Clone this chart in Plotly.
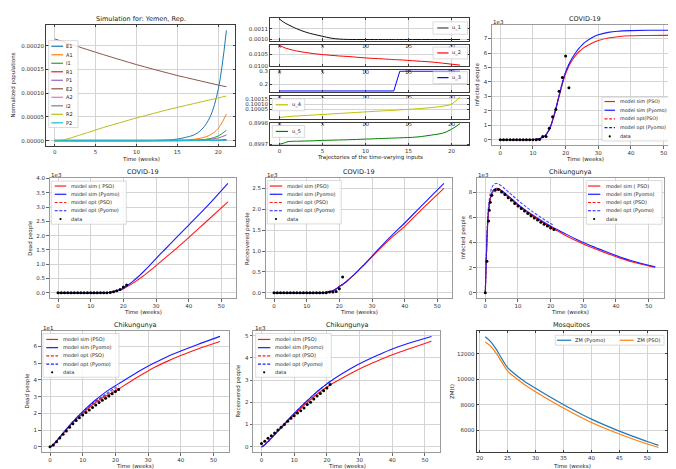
import plotly.graph_objects as go

W, H = 676, 469
FONT = "DejaVu Sans"

# ---------------- top left : Yemen simulation (values in 1e-6)
t_sim = [0, 1, 2, 3, 4, 5, 6, 7, 8, 9, 10, 11, 12, 13, 14, 15, 16, 17, 18, 19, 20, 21]
E1 = [0.2, 0.2, 0.2, 0.2, 0.2, 0.2, 0.2, 0.2, 0.2, 0.2, 0.2, 0.3, 0.5, 0.9, 1.7, 3.5, 7, 12, 24, 50, 108, 232]
A1 = [0.1, 0.1, 0.1, 0.1, 0.1, 0.1, 0.1, 0.1, 0.1, 0.1, 0.1, 0.1, 0.2, 0.3, 0.5, 0.8, 1.6, 3, 6, 12, 26, 56]
I1 = [0, 0, 0, 0, 0, 0, 0, 0, 0, 0, 0, 0, 0.1, 0.1, 0.2, 0.3, 0.5, 1.0, 2.2, 4.5, 10, 22]
R1 = [0, 0, 0, 0, 0, 0, 0, 0, 0, 0, 0, 0, 0, 0, 0, 0, 0.1, 0.1, 0.3, 0.6, 1.2, 2.5]
P1 = [0, 0, 0, 0, 0, 0, 0, 0, 0, 0, 0, 0, 0, 0.1, 0.1, 0.2, 0.4, 0.7, 1.4, 3.0, 6.0, 12]
E2 = [214, 208.3, 202.6, 197, 191.5, 186, 180.7, 175.4, 170.2, 165.1, 160, 155.3, 150.6, 146, 141.5, 137, 133, 129, 125, 121, 117, 113.5]
A2 = [0.6, 0.6, 0.6, 0.6, 0.6, 0.6, 0.6, 0.6, 0.6, 0.6, 0.6, 0.6, 0.6, 0.6, 0.6, 0.6, 0.6, 0.6, 0.6, 0.6, 0.6, 0.6]
I2 = [1.2, 1.2, 1.2, 1.2, 1.2, 1.2, 1.2, 1.2, 1.2, 1.2, 1.2, 1.2, 1.2, 1.2, 1.2, 1.2, 1.2, 1.2, 1.2, 1.2, 1.2, 1.2]
R2 = [0, 1.5, 6, 11.5, 17, 22.5, 28, 33, 38, 43, 48, 52.5, 57, 61.5, 66, 70, 74, 78, 82, 86, 90, 94]
P2 = [0.8, 0.8, 0.8, 0.8, 0.8, 0.8, 0.8, 0.8, 0.8, 0.8, 0.8, 0.8, 0.8, 0.8, 0.8, 0.8, 0.8, 0.8, 0.8, 0.8, 0.8, 0.8]
pop_names = ["E1", "A1", "I1", "R1", "P1", "E2", "A2", "I2", "R2", "P2"]
pop_scale = 1e-6

# ---------------- top middle : time-varying inputs
t_u = [0, 0.5, 1, 2, 3, 4, 5, 6, 7, 8, 10, 12, 13.3, 14, 16, 18, 19, 20, 21]
u_1 = [0.00119, 0.00116, 0.001138, 0.0011, 0.00107, 0.001048, 0.00103, 0.001013, 0.001004, 0.001001,
       0.001, 0.001, 0.001, 0.001, 0.001, 0.001, 0.001, 0.001, 0.001]
u_2 = [0.01086, 0.01078, 0.01072, 0.01063, 0.01057, 0.01052, 0.01048, 0.01045, 0.01042, 0.0104,
       0.01034, 0.0103, 0.01027, 0.01026, 0.01021, 0.01016, 0.01012, 0.01008, 0.01004]
u_3 = [0.15, 0.15, 0.15, 0.15, 0.15, 0.15, 0.15, 0.15, 0.15, 0.15, 0.15, 0.15, 0.15, 0.3, 0.3, 0.3, 0.3, 0.3, 0.3]
u_4 = [0.09997, 0.099975, 0.09998, 0.099985, 0.09999, 0.099995, 0.1, 0.100005, 0.10001, 0.100015,
       0.100025, 0.100035, 0.10004, 0.100045, 0.100055, 0.10007, 0.10008, 0.1001, 0.10017]
u_5 = [0.8997, 0.899705, 0.899712, 0.899714, 0.899715, 0.899716, 0.899718, 0.899719, 0.89972, 0.899721,
       0.899724, 0.899727, 0.899729, 0.89973, 0.899734, 0.899745, 0.899752, 0.89977, 0.899797]

# ---------------- COVID-19 (values in 1e3)
t_cov = [0, 4, 8, 10, 11, 12, 13, 14, 15, 16, 17, 18, 19, 20, 21, 22, 23, 24, 25, 26, 28, 30, 33, 36, 40, 45, 52]
t_week = [0, 1, 2, 3, 4, 5, 6, 7, 8, 9, 10, 11, 12, 13, 14, 15, 16, 17, 18, 19, 20, 21]
cov_inf_pso = [0, 0, 0.01, 0.02, 0.04, 0.08, 0.17, 0.36, 0.72, 1.32, 2.12, 3.0, 3.88, 4.6, 5.1, 5.5, 5.82,
               6.07, 6.27, 6.43, 6.68, 6.86, 7.04, 7.13, 7.19, 7.21, 7.22]
cov_inf_pyomo = [0, 0, 0.01, 0.02, 0.04, 0.08, 0.17, 0.36, 0.73, 1.34, 2.16, 3.06, 3.95, 4.68, 5.22, 5.65, 6.0,
                 6.3, 6.55, 6.75, 7.05, 7.26, 7.43, 7.51, 7.55, 7.57, 7.57]
cov_inf_data = [0, 0, 0, 0, 0, 0, 0, 0, 0, 0, 0, 0, 0.02, 0.23, 0.23, 0.8, 1.6, 2.1, 3.35, 4.3, 5.8, 3.6]
cov_dead_pso = [0, 0, 0, 0, 0, 0, 0, 0.005, 0.01, 0.02, 0.04, 0.07, 0.1, 0.15, 0.21, 0.27, 0.34, 0.42, 0.5,
                0.58, 0.76, 0.95, 1.24, 1.53, 1.93, 2.45, 3.18]
cov_dead_pyomo = [0, 0, 0, 0, 0, 0, 0, 0.005, 0.01, 0.02, 0.04, 0.07, 0.11, 0.17, 0.24, 0.32, 0.41, 0.51, 0.61,
                  0.72, 0.95, 1.2, 1.55, 1.9, 2.37, 2.95, 3.83]
cov_dead_data = [0, 0, 0, 0, 0, 0, 0, 0, 0, 0, 0, 0, 0, 0, 0, 0, 0.01, 0.04, 0.07, 0.12, 0.2, 0.27]
cov_rec_pso = [0, 0, 0, 0, 0, 0, 0, 0, 0.005, 0.01, 0.03, 0.05, 0.09, 0.15, 0.2, 0.26, 0.33, 0.4, 0.47, 0.55,
               0.7, 0.86, 1.1, 1.32, 1.59, 1.98, 2.5]
cov_rec_pyomo = [0, 0, 0, 0, 0, 0, 0, 0, 0.005, 0.01, 0.03, 0.05, 0.09, 0.15, 0.2, 0.26, 0.33, 0.4, 0.47, 0.55,
                 0.71, 0.88, 1.13, 1.37, 1.67, 2.07, 2.62]
cov_rec_data = [0, 0, 0, 0, 0, 0, 0, 0, 0, 0, 0, 0, 0, 0, 0, 0, 0, 0.02, 0.02, 0.03, 0.1, 0.38]

# ---------------- Chikungunya (infected/recovered in 1e3, dead in 1e1)
t_chik = [0, 0.25, 0.5, 0.75, 1, 1.5, 2, 2.5, 3, 3.5, 4, 5, 6, 7, 8, 10, 12, 14, 16, 18, 20, 21,
          22, 25, 28, 32, 36, 40, 45, 52]
chik_inf_pso = [0, 2.2, 4.2, 5.6, 6.5, 7.4, 7.9, 8.12, 8.23, 8.25, 8.22, 8.05, 7.85, 7.62, 7.4, 6.95, 6.55,
                6.2, 5.85, 5.52, 5.2, 5.05, 4.92, 4.5, 4.12, 3.65, 3.25, 2.87, 2.45, 2.02]
chik_inf_pyomo = [0, 2.2, 4.2, 5.6, 6.5, 7.4, 7.92, 8.15, 8.27, 8.3, 8.28, 8.12, 7.92, 7.7, 7.48, 7.02, 6.62,
                  6.27, 5.93, 5.6, 5.3, 5.15, 5.02, 4.62, 4.24, 3.77, 3.36, 2.96, 2.52, 2.07]
chik_inf_opt_pyomo = [0, 2.4, 4.6, 6.0, 6.9, 7.85, 8.35, 8.58, 8.67, 8.68, 8.64, 8.47, 8.26, 8.03, 7.8, 7.35,
                      6.92, 6.53, 6.17, 5.82, 5.5, 5.35]
t_chik_data = [0, 0.5, 1, 1.2, 1.5, 2, 3, 4, 5, 6, 7, 8, 9, 10, 11, 12, 13, 14, 15, 16, 17, 18, 19, 20, 21]
chik_inf_data = [0, 2.5, 5.7, 6.55, 7.2, 7.75, 8.15, 8.2, 8.0, 7.8, 7.55, 7.35, 7.1, 6.9, 6.7, 6.5, 6.3, 6.12,
                 5.95, 5.78, 5.6, 5.45, 5.3, 5.15, 5.02]
chik_dead_pso = [0, 0.01, 0.04, 0.08, 0.12, 0.22, 0.33, 0.45, 0.57, 0.69, 0.8, 1.02, 1.23, 1.44, 1.64, 2.0,
                 2.35, 2.65, 2.92, 3.13, 3.32, 3.45, 3.58, 3.95, 4.3, 4.75, 5.12, 5.45, 5.83, 6.29]
chik_dead_pyomo = [0, 0.01, 0.04, 0.08, 0.12, 0.23, 0.34, 0.46, 0.57, 0.69, 0.81, 1.05, 1.28, 1.5, 1.71, 2.1,
                   2.47, 2.81, 3.12, 3.4, 3.65, 3.77, 3.89, 4.25, 4.6, 5.02, 5.4, 5.72, 6.1, 6.6]
chik_dead_opt_pso = [0, 0.01, 0.04, 0.08, 0.12, 0.23, 0.34, 0.45, 0.56, 0.68, 0.8, 1.04, 1.26, 1.47, 1.67,
                     2.04, 2.39, 2.7, 2.96, 3.2, 3.42, 3.53]
chik_dead_opt_pyomo = [0, 0.01, 0.04, 0.08, 0.12, 0.23, 0.34, 0.46, 0.57, 0.69, 0.81, 1.05, 1.27, 1.49, 1.7,
                       2.08, 2.43, 2.74, 3.0, 3.28, 3.53, 3.64]
chik_dead_data = [0, 0.1, 0.3, 0.52, 0.75, 0.95, 1.17, 1.37, 1.57, 1.73, 1.9, 2.05, 2.2, 2.35, 2.5, 2.65,
                  2.78, 2.9, 3.03, 3.17, 3.3, 3.42]
chik_rec_pso = [0, 0.01, 0.03, 0.06, 0.09, 0.16, 0.23, 0.3, 0.38, 0.46, 0.54, 0.69, 0.85, 1.0, 1.15, 1.45,
                1.73, 2.0, 2.25, 2.48, 2.68, 2.78, 2.87, 3.12, 3.36, 3.65, 3.9, 4.14, 4.4, 4.75]
chik_rec_pyomo = [0, 0.01, 0.03, 0.06, 0.09, 0.16, 0.23, 0.31, 0.39, 0.47, 0.55, 0.71, 0.87, 1.03, 1.19, 1.5,
                  1.8, 2.08, 2.35, 2.6, 2.83, 2.94, 3.04, 3.32, 3.58, 3.88, 4.15, 4.4, 4.66, 4.97]
chik_rec_data = [0.15, 0.25, 0.38, 0.5, 0.62, 0.75, 0.88, 1.0, 1.15, 1.28, 1.4, 1.52, 1.62, 1.75, 1.9, 2.0,
                 2.15, 2.28, 2.4, 2.52, 2.65, 2.8]

# ---------------- Mosquitoes
t_mos = [21, 22, 23, 24, 25, 26, 28, 30, 33, 36, 40, 45, 50, 52]
zm_pyomo = [13350, 12950, 12340, 11600, 10920, 10520, 9850, 9290, 8500, 7760, 6860, 5920, 5100, 4790]
zm_pso = [12950, 12600, 12030, 11330, 10650, 10260, 9600, 9030, 8240, 7500, 6600, 5690, 4900, 4630]

TAB = ["#1f77b4", "#ff7f0e", "#2ca02c", "#d62728", "#9467bd",
       "#8c564b", "#e377c2", "#7f7f7f", "#bcbd22", "#17becf"]
RED, BLUE = "#ff1a1a", "#1a1aff"
DASH = "3px,1.6px"
LEG_FONT = 5.0

# axes boxes in pixels: left, right, top, bottom
boxes = {
    1: (38.1, 227, 14, 137),
    2: (262, 461, 7, 30), 3: (262, 461, 34, 56), 4: (262, 461, 60, 82),
    5: (262, 461, 86, 109), 6: (262, 461, 113, 136),
    7: (483.8, 670.7, 14, 136),
    8: (41.5, 228.4, 169, 291), 9: (257.5, 444.4, 169, 291), 10: (468.8, 655.7, 169, 291),
    11: (33.5, 220.5, 324, 447), 12: (245, 432, 324, 447), 13: (468.6, 659.1, 324, 447),
}


def px(x):
    return x / W


def py(y):
    return 1 - y / H


fig = go.Figure()


def sfx(n):
    return "" if n == 1 else str(n)


def axes(n, xr, yr, xt, yt, xfmt=None, yfmt=None, inside=False):
    l, r, t, b = boxes[n]
    frame = "#3c3c3c" if inside else "#9a9a9a"
    common = dict(showline=True, linecolor=frame, linewidth=0.8,
                  mirror="allticks" if inside else True,
                  ticks="inside" if inside else "outside", ticklen=2.5, tickwidth=0.6,
                  tickcolor="#3c3c3c" if inside else "#666666",
                  showgrid=True, gridcolor="#d4d4d4", gridwidth=0.6, zeroline=False,
                  tickmode="array", tickfont=dict(size=5.5, color="#333333", family=FONT))
    s = sfx(n)
    fig.update_layout({
        "xaxis" + s: dict(domain=[px(l), px(r)], range=xr, anchor="y" + s, tickvals=xt, tickformat=xfmt, **common),
        "yaxis" + s: dict(domain=[py(b), py(t)], range=yr, anchor="x" + s, tickvals=yt, tickformat=yfmt, **common),
    })


def line(n, x, y, color, width=1.0, dash=None, shape="spline", opacity=1.0):
    s = sfx(n)
    fig.add_trace(go.Scatter(x=x, y=y, xaxis="x" + s, yaxis="y" + s, mode="lines",
                             line=dict(color=color, width=width, dash=dash, shape=shape),
                             opacity=opacity, showlegend=False, hoverinfo="skip"))


def dots(n, x, y, size=3):
    s = sfx(n)
    fig.add_trace(go.Scatter(x=x, y=y, xaxis="x" + s, yaxis="y" + s, mode="markers",
                             marker=dict(color="black", size=size, line=dict(width=0)),
                             showlegend=False, hoverinfo="skip"))


def text(x, y, s, size=5.5, xanchor="center", angle=0, color="#222222"):
    fig.add_annotation(x=px(x), y=py(y), xref="paper", yref="paper", text=s, showarrow=False,
                       font=dict(size=size, color=color, family=FONT), xanchor=xanchor,
                       yanchor="middle", textangle=angle, borderpad=0)


def legend_box(x0, y0, x1, y1):
    fig.add_shape(type="rect", xref="paper", yref="paper", x0=px(x0), x1=px(x1), y0=py(y1), y1=py(y0),
                  fillcolor="rgba(255,255,255,0.85)", line=dict(color="#cccccc", width=0.7), layer="above")


def legend_item(label, color, dash, y, lx0, lx1, tx, marker=False, size=LEG_FONT):
    if marker:
        cx = (lx0 + lx1) / 2
        fig.add_shape(type="circle", xref="paper", yref="paper", x0=px(cx - 1.1), x1=px(cx + 1.1),
                      y0=py(y + 1.1), y1=py(y - 1.1), fillcolor="black", line=dict(width=0), layer="above")
    else:
        fig.add_shape(type="line", xref="paper", yref="paper", x0=px(lx0), x1=px(lx1), y0=py(y), y1=py(y),
                      line=dict(color=color, width=1.2, dash=dash), layer="above")
    text(tx, y, label, size=size, xanchor="left")


def legend_column(entries, y0, step, lx0, lx1, tx, size=LEG_FONT):
    for i, (label, color, dash, marker) in enumerate(entries):
        legend_item(label, color, dash, y0 + i * step, lx0, lx1, tx, marker, size)


def title(n, s):
    l, r, t, b = boxes[n]
    text((l + r) / 2, t - 5.8, s, size=6.5)


def xlabel(n, s, off=14):
    l, r, t, b = boxes[n]
    text((l + r) / 2, b + off, s)


def ylabel(n, x, s):
    l, r, t, b = boxes[n]
    text(x, (t + b) / 2, s, angle=-90)


def offset(n, s):
    l, r, t, b = boxes[n]
    text(l + 0.5, t - 3.2, s, xanchor="left")


# ---- panel 1: normalized populations
axes(1, [-1.05, 22.05], [-0.0000116, 0.0002436], [0, 5, 10, 15, 20],
     [0, 0.00005, 0.0001, 0.00015, 0.0002], yfmt=".5f", inside=True)
for name, vals, c in zip(pop_names, [E1, A1, I1, R1, P1, E2, A2, I2, R2, P2], TAB):
    line(1, t_sim, [v * pop_scale for v in vals], c, width=1.0)
title(1, "Simulation for: Yemen, Rep.")
xlabel(1, "Time (weeks)", off=12.5)
ylabel(1, 6, "Normalized populations")
legend_box(40.7, 30, 70, 118)
legend_column([(nm, c, None, False) for nm, c in zip(pop_names, TAB)], 35.7, 8.62, 43.3, 55, 57.3)

# ---- panels 2-6: inputs
u_specs = [
    (2, u_1, "#111111", [0.00099, 0.0012], [0.0010, 0.0011], ".4f", "u_1"),
    (3, u_2, "#ff0000", [0.00999, 0.0109], [0.0100, 0.0105], ".4f", "u_2"),
    (4, u_3, "#0000ff", [0.1425, 0.3075], [0.2, 0.3], ".1f", "u_3"),
    (5, u_4, "#bfbf00", [0.09996, 0.10018], [0.10005, 0.1001, 0.10015], ".5f", "u_4"),
    (6, u_5, "#008000", [0.899695, 0.899802], [0.8997, 0.8998], ".4f", "u_5"),
]
for n, vals, c, yr, yt, fmt, name in u_specs:
    axes(n, [-1.1, 22.05], yr, [0, 5, 10, 15, 20], yt, yfmt=fmt, inside=True)
    line(n, t_u, vals, c, width=1.0, shape="linear" if n == 4 else "spline")
text(361.5, 148.7, "Trajectories of the time-varying inputs")
# legends of the inputs
legend_box(425, 11, 459.5, 23.5)
legend_item("u_1", "#444444", None, 17.2, 429.3, 440.5, 443.3)
legend_box(425, 36.5, 459.5, 48.5)
legend_item("u_2", "#ff0000", None, 42.5, 429.3, 440.5, 443.3)
legend_box(425, 61.5, 459.5, 73.5)
legend_item("u_3", "#0000ff", None, 67.5, 429.3, 440.5, 443.3)
legend_box(264.3, 89, 296.7, 101)
legend_item("u_4", "#bfbf00", None, 95, 267.7, 280, 283.3)
legend_box(264.3, 116, 296.7, 128)
legend_item("u_5", "#008000", None, 122, 267.7, 280, 283.3)

x52 = [-2.6, 54.6]
xt52 = [0, 10, 20, 30, 40, 50]

# ---- panel 7: COVID infected
axes(7, x52, [-0.38, 7.95], xt52, [0, 1, 2, 3, 4, 5, 6, 7], yfmt="d")
line(7, t_cov, cov_inf_pso, RED, 1.1)
line(7, t_cov, cov_inf_pyomo, BLUE, 1.1)
line(7, t_cov[:15], cov_inf_pso[:15], RED, 1.1, DASH, opacity=0.8)
line(7, t_cov[:15], cov_inf_pyomo[:15], BLUE, 1.1, DASH, opacity=0.8)
dots(7, t_week, cov_inf_data)
title(7, "COVID-19")
xlabel(7, "Time (weeks)")
ylabel(7, 469, "Infected people")
offset(7, "1e3")
legend_box(594, 87.3, 670.2, 131.7)
legend_column([("model sim (PSO)", RED, None, False), ("model sim (Pyomo)", BLUE, None, False),
               ("model opt(PSO)", RED, DASH, False), ("model opt (Pyomo)", BLUE, DASH, False),
               ("data", "black", None, True)], 91.7, 8.83, 596.5, 607, 611, size=4.8)

# ---- panel 8: COVID dead
axes(8, x52, [-0.19, 4.02], xt52, [0, 0.5, 1, 1.5, 2, 2.5, 3, 3.5, 4], yfmt=".1f")
line(8, t_cov, cov_dead_pso, RED, 1.1)
line(8, t_cov, cov_dead_pyomo, BLUE, 1.1)
line(8, t_cov[:15], cov_dead_pso[:15], RED, 1.1, DASH, opacity=0.8)
line(8, t_cov[:15], cov_dead_pyomo[:15], BLUE, 1.1, DASH, opacity=0.8)
dots(8, t_week, cov_dead_data)
title(8, "COVID-19")
xlabel(8, "Time (weeks)")
ylabel(8, 21.7, "Dead people")
offset(8, "1e3")
legend_box(43.3, 172.3, 118.3, 216)
legend_column([("model sim ( PSO)", RED, None, False), ("model sim (Pyomo)", BLUE, None, False),
               ("model opt (PSO)", RED, DASH, False), ("model opt (Pyomo)", BLUE, DASH, False),
               ("data", "black", None, True)], 177.3, 8.35, 46.7, 58.3, 61.8)

# ---- panel 9: COVID recovered
axes(9, x52, [-0.13, 2.75], xt52, [0, 0.5, 1, 1.5, 2, 2.5], yfmt=".1f")
line(9, t_cov, cov_rec_pso, RED, 1.1)
line(9, t_cov, cov_rec_pyomo, BLUE, 1.1)
line(9, t_cov[:15], cov_rec_pso[:15], RED, 1.1, DASH, opacity=0.8)
line(9, t_cov[:15], cov_rec_pyomo[:15], BLUE, 1.1, DASH, opacity=0.8)
dots(9, t_week, cov_rec_data)
title(9, "COVID-19")
xlabel(9, "Time (weeks)")
ylabel(9, 239, "Receovered people")
offset(9, "1e3")
legend_box(259.3, 171.7, 333.3, 215.7)
legend_column([("model sim (PSO)", RED, None, False), ("model sim (Pyomo)", BLUE, None, False),
               ("model opt (PSO)", RED, DASH, False), ("model opt (Pyomo)", BLUE, DASH, False),
               ("data", "black", None, True)], 177.3, 8.35, 261.7, 274.3, 277.8)

# ---- panel 10: Chikungunya infected
axes(10, x52, [-0.435, 9.13], xt52, [0, 2, 4, 6, 8], yfmt="d")
line(10, t_chik, chik_inf_pso, RED, 1.1)
line(10, t_chik, chik_inf_pyomo, BLUE, 1.1)
line(10, t_chik[:22], chik_inf_pso[:22], RED, 1.1, DASH, opacity=0.8)
line(10, t_chik[:22], chik_inf_opt_pyomo, BLUE, 1.1, DASH, opacity=0.8)
dots(10, t_chik_data, chik_inf_data)
title(10, "Chikungunya")
xlabel(10, "Time (weeks)")
ylabel(10, 455, "Infected people")
offset(10, "1e3")
legend_box(578.3, 171.7, 654, 216)
legend_column([("model sim ( PSO)", RED, None, False), ("model sim (Pyomo)", BLUE, None, False),
               ("model opt (PSO)", RED, DASH, False), ("model opt (Pyomo)", BLUE, DASH, False),
               ("data", "black", None, True)], 177.3, 8.35, 580, 592.3, 596.8)

# ---- panel 11: Chikungunya dead
axes(11, x52, [-0.33, 6.93], xt52, [0, 1, 2, 3, 4, 5, 6], yfmt="d")
line(11, t_chik, chik_dead_pso, RED, 1.1)
line(11, t_chik, chik_dead_pyomo, BLUE, 1.1)
line(11, t_chik[:22], chik_dead_opt_pso, RED, 1.1, DASH, opacity=0.8)
line(11, t_chik[:22], chik_dead_opt_pyomo, BLUE, 1.1, DASH, opacity=0.8)
dots(11, t_week, chik_dead_data)
title(11, "Chikungunya")
xlabel(11, "Time (weeks)")
ylabel(11, 20, "Dead people")
offset(11, "1e1")
legend_box(35, 326.7, 111, 371)
legend_column([("model sim (PSO)", RED, None, False), ("model sim (Pyomo)", BLUE, None, False),
               ("model opt (PSO)", RED, DASH, False), ("model opt (Pyomo)", BLUE, DASH, False),
               ("data", "black", None, True)], 332.7, 8.33, 38.3, 50, 53.8)

# ---- panel 12: Chikungunya recovered
axes(12, x52, [-0.25, 5.22], xt52, [0, 1, 2, 3, 4, 5], yfmt="d")
line(12, t_chik, chik_rec_pso, RED, 1.1)
line(12, t_chik, chik_rec_pyomo, BLUE, 1.1)
line(12, t_chik[:22], chik_rec_pso[:22], RED, 1.1, DASH, opacity=0.8)
line(12, t_chik[:22], chik_rec_pyomo[:22], BLUE, 1.1, DASH, opacity=0.8)
dots(12, t_week, chik_rec_data)
title(12, "Chikungunya")
xlabel(12, "Time (weeks)")
ylabel(12, 231, "Receovered people")
offset(12, "1e3")
legend_box(247.7, 326.7, 323.3, 371)
legend_column([("model sim (PSO)", RED, None, False), ("model sim (Pyomo)", BLUE, None, False),
               ("model opt (PSO)", RED, DASH, False), ("model opt (Pyomo)", BLUE, DASH, False),
               ("data", "black", None, True)], 332.7, 8.33, 250, 262.3, 266.2)

# ---- panel 13: mosquitoes
axes(13, [19.45, 53.55], [4250, 13820], [20, 25, 30, 35, 40, 45, 50], [6000, 8000, 10000, 12000],
     yfmt="d", inside=True)
line(13, t_mos, zm_pyomo, TAB[0], 1.2)
line(13, t_mos, zm_pso, TAB[1], 1.2)
title(13, "Mosquitoes")
xlabel(13, "Time (weeks)")
ylabel(13, 443.5, "ZM(t)")
legend_box(547.3, 328.5, 656, 338.5)
legend_item("ZM (Pyomo)", TAB[0], None, 333.5, 549, 563.3, 566.2)
legend_item("ZM (PSO)", TAB[1], None, 333.5, 611.7, 625.7, 628)

fig.update_layout(width=W, height=H, autosize=False, margin=dict(l=0, r=0, t=0, b=0),
                  paper_bgcolor="white", plot_bgcolor="white", showlegend=False,
                  font=dict(family=FONT, size=5.5, color="#222222"))

fig.write_html("out.html")
